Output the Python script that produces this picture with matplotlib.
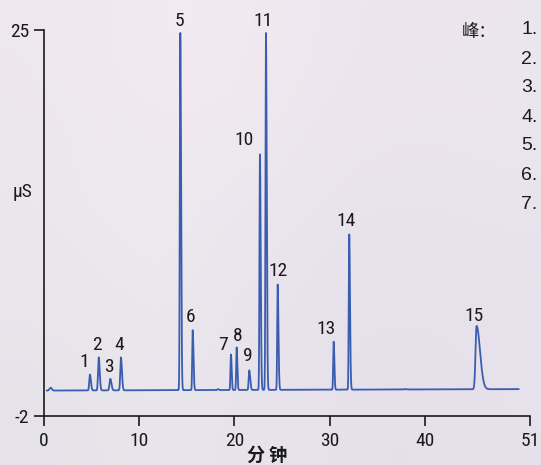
import numpy as np
import matplotlib
matplotlib.use("Agg")
import matplotlib.pyplot as plt

# Ion chromatogram: peak table (retention time in min, apex signal in µS)
peak_ids = [str(i) for i in range(1, 16)]
retention_min = [4.87, 5.79, 7.00, 8.12, 14.34, 15.64, 19.65, 20.25, 21.57,
                 22.69, 23.32, 24.55, 30.42, 32.05, 45.40]
apex_uS = [0.9, 2.1, 0.6, 2.1, 24.8, 4.0, 2.3, 2.8, 1.2,
           16.3, 24.8, 7.2, 3.2, 10.7, 4.3]
# leading / tailing half-widths of each peak (min)
lead_sigma = [0.07, 0.07, 0.08, 0.07, 0.05, 0.05, 0.05, 0.05, 0.06,
              0.05, 0.05, 0.05, 0.05, 0.05, 0.11]
tail_sigma = [0.10, 0.10, 0.12, 0.10, 0.08, 0.08, 0.07, 0.07, 0.10,
              0.08, 0.08, 0.08, 0.07, 0.08, 0.36]
# small unlabeled disturbances on the baseline
minor_min = [0.75, 18.3, 37.9]
minor_uS = [-0.02, -0.12, -0.12]
minor_sigma = [0.12, 0.08, 0.10]

baseline_start_uS = -0.22
baseline_end_uS = -0.12
run_start_min, run_end_min = 0.35, 49.8

x_ticks = [0, 10, 20, 30, 40, 51]
y_ticks = [-2, 25]
legend_items = ["1.", "2.", "3.", "4.", "5.", "6.", "7."]

# label offsets from each apex (pixels)
label_dx_px = [-6, -2, -1, -2, -1, -2, -8, 1, -1, -16, -3, 0, -8, -3, -3]
label_dy_px = [13, 12, 12, 12, 12, 13, 10, 11, 14, 14, 12, 13, 13, 13, 10]

W, H, DPI = 541, 465, 100
line_color = "#3A5DB0"
num_font = ["Roboto Condensed", "Liberation Sans", "DejaVu Sans"]
cjk_font = ["Noto Sans CJK SC", "DejaVu Sans"]

t = np.arange(run_start_min, run_end_min, 0.004)
frac = (t - run_start_min) / (run_end_min - run_start_min)
base = baseline_start_uS + (baseline_end_uS - baseline_start_uS) * frac
signal = base.copy()
for rt, h, sl, st in zip(retention_min, apex_uS, lead_sigma, tail_sigma):
    s = np.where(t < rt, sl, st)
    signal += (h - np.interp(rt, t, base)) * np.exp(-0.5 * ((t - rt) / s) ** 2)
for rt, h, s in zip(minor_min, minor_uS, minor_sigma):
    signal += (h - np.interp(rt, t, base)) * np.exp(-0.5 * ((t - rt) / s) ** 2)

fig = plt.figure(figsize=(W / DPI, H / DPI), dpi=DPI)

# soft lavender backdrop
bg_colors = np.array([
    [[238, 231, 238], [243, 235, 241], [241, 233, 240], [237, 229, 238], [236, 230, 238]],
    [[235, 231, 237], [239, 235, 240], [236, 230, 238], [233, 227, 236], [234, 228, 237]],
    [[233, 231, 236], [237, 233, 238], [233, 227, 236], [231, 225, 236], [232, 226, 236]],
    [[229, 227, 233], [233, 229, 236], [231, 227, 235], [229, 223, 234], [230, 225, 234]],
], dtype=float) / 255.0
bg = fig.add_axes([0, 0, 1, 1], zorder=-10)
bg.imshow(bg_colors, interpolation="bicubic", aspect="auto", extent=[0, 1, 0, 1])
bg.set_axis_off()

x0_px, x1_px, y_top_px, y_bot_px = 43.5, 530.0, 30.0, 416.0
ax = fig.add_axes([x0_px / W, 1 - y_bot_px / H, (x1_px - x0_px) / W,
                   (y_bot_px - y_top_px) / H])
ax.patch.set_alpha(0)
ax.plot(t, signal, color=line_color, lw=1.3, solid_joinstyle="round")
ax.set_xlim(0, 51)
ax.set_ylim(-2, 25)
for side in ("top", "right"):
    ax.spines[side].set_visible(False)
for side in ("left", "bottom"):
    ax.spines[side].set_linewidth(1.2)
    ax.spines[side].set_color("#1a1a1a")
ax.set_xticks(x_ticks)
ax.set_yticks(y_ticks)
ax.set_xticklabels([str(v) for v in x_ticks], family=num_font, fontsize=14)
ax.set_yticklabels([str(v) for v in y_ticks], family=num_font, fontsize=14)
ax.tick_params(axis="both", direction="out", length=7, width=1.2,
               color="#1a1a1a", labelcolor="#1a1a1a")
ax.tick_params(axis="y", pad=3.5)
ax.tick_params(axis="x", pad=4.5)

px2pt = 72.0 / DPI
for lab, rt, h, dx, dy in zip(peak_ids, retention_min, apex_uS, label_dx_px, label_dy_px):
    ax.annotate(lab, (rt, h), xytext=(dx * px2pt, dy * px2pt),
                textcoords="offset points", ha="center", va="center",
                family=num_font, fontsize=14, color="#1a1a1a",
                annotation_clip=False)

fig.text(22 / W, 1 - 192 / H, "µS", family=num_font, fontsize=14,
         ha="center", va="center", color="#1a1a1a")
fig.text(267 / W, 1 - 455 / H, "分 钟", family=cjk_font, fontsize=13,
         fontweight="bold", ha="center", va="center", color="#1a1a1a")
fig.text(462 / W, 1 - 32 / H, "峰：", family=cjk_font, fontsize=12.5,
         ha="left", va="center", color="#1a1a1a")
for i, item in enumerate(legend_items):
    fig.text(521.5 / W, 1 - (30 + 29 * i) / H, item,
             family=["Liberation Sans", "DejaVu Sans"], fontsize=14,
             ha="left", va="center", color="#1a1a1a")

fig.savefig("out.png", dpi=DPI)
